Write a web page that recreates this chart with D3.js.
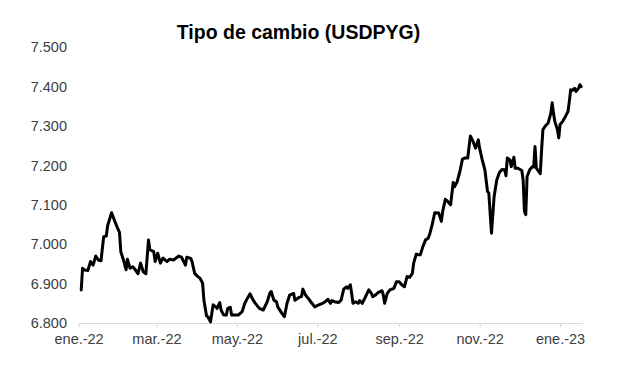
<!DOCTYPE html>
<html>
<head>
<meta charset="utf-8">
<script src="https://cdn.jsdelivr.net/npm/d3@7"></script>
<style>
  html, body { margin: 0; padding: 0; background: #fff; }
  svg { display: block; }
</style>
</head>
<body>
<svg id="chart" width="617" height="372"></svg>
<script>
const title = "Tipo de cambio (USDPYG)";

const dates = [
  "2022-01-03","2022-01-04","2022-01-05","2022-01-08","2022-01-10","2022-01-12","2022-01-14","2022-01-16","2022-01-18","2022-01-20",
  "2022-01-22","2022-01-23","2022-01-26","2022-01-28","2022-01-30","2022-02-01","2022-02-02","2022-02-04","2022-02-06","2022-02-07",
  "2022-02-09","2022-02-11","2022-02-13","2022-02-15","2022-02-17","2022-02-19","2022-02-21","2022-02-23","2022-02-24","2022-02-27",
  "2022-02-28","2022-03-02","2022-03-04","2022-03-06","2022-03-09","2022-03-11","2022-03-14","2022-03-18","2022-03-20","2022-03-23",
  "2022-03-24","2022-03-27","2022-03-28","2022-03-30","2022-04-01","2022-04-03","2022-04-05","2022-04-06","2022-04-08","2022-04-09",
  "2022-04-11","2022-04-13","2022-04-15","2022-04-16","2022-04-18","2022-04-19","2022-04-21","2022-04-23","2022-04-24","2022-04-26",
  "2022-04-27","2022-04-30","2022-05-02","2022-05-05","2022-05-07","2022-05-09","2022-05-11","2022-05-13","2022-05-15","2022-05-18",
  "2022-05-21","2022-05-24","2022-05-26","2022-05-27","2022-05-29","2022-05-31","2022-06-01","2022-06-04","2022-06-06","2022-06-08",
  "2022-06-10","2022-06-13","2022-06-14","2022-06-17","2022-06-19","2022-06-20","2022-06-22","2022-06-24","2022-06-26","2022-06-29",
  "2022-07-02","2022-07-05","2022-07-07","2022-07-09","2022-07-11","2022-07-12","2022-07-14","2022-07-17","2022-07-19","2022-07-21",
  "2022-07-23","2022-07-24","2022-07-26","2022-07-27","2022-07-28","2022-07-30","2022-08-01","2022-08-02","2022-08-04","2022-08-06",
  "2022-08-09","2022-08-11","2022-08-12","2022-08-14","2022-08-16","2022-08-19","2022-08-20","2022-08-21","2022-08-23","2022-08-25",
  "2022-08-28","2022-08-30","2022-09-01","2022-09-03","2022-09-05","2022-09-07","2022-09-09","2022-09-11","2022-09-12","2022-09-14",
  "2022-09-16","2022-09-17","2022-09-19","2022-09-21","2022-09-23","2022-09-24","2022-09-26","2022-09-28","2022-10-01","2022-10-03",
  "2022-10-04","2022-10-06","2022-10-08","2022-10-10","2022-10-12","2022-10-13","2022-10-15","2022-10-17","2022-10-19","2022-10-21",
  "2022-10-23","2022-10-25","2022-10-27","2022-10-29","2022-10-31","2022-11-01","2022-11-03","2022-11-05","2022-11-07","2022-11-08",
  "2022-11-10","2022-11-12","2022-11-14","2022-11-16","2022-11-18","2022-11-20","2022-11-21","2022-11-22","2022-11-24","2022-11-25",
  "2022-11-27","2022-11-28","2022-11-30","2022-12-03","2022-12-04","2022-12-05","2022-12-06","2022-12-07","2022-12-09","2022-12-11",
  "2022-12-12","2022-12-13","2022-12-14","2022-12-16","2022-12-17","2022-12-18","2022-12-19","2022-12-21","2022-12-23","2022-12-25",
  "2022-12-26","2022-12-27","2022-12-28","2022-12-30","2022-12-31","2023-01-01","2023-01-03","2023-01-05","2023-01-07","2023-01-08",
  "2023-01-09","2023-01-10","2023-01-12","2023-01-13","2023-01-15","2023-01-16","2023-01-17"
];

const values = [
  6884,6939,6935,6933,6956,6947,6970,6960,6958,7019,
  7021,7047,7080,7062,7045,7030,6981,6960,6935,6962,
  6939,6943,6935,6925,6952,6930,6925,7011,6986,6981,
  6956,6977,6952,6965,6956,6962,6960,6970,6967,6947,
  6967,6964,6956,6926,6919,6914,6901,6858,6818,6816,
  6803,6846,6841,6837,6852,6833,6820,6820,6837,6840,
  6820,6820,6820,6829,6850,6863,6874,6860,6850,6837,
  6833,6854,6876,6880,6858,6854,6841,6825,6816,6850,
  6871,6875,6858,6865,6867,6886,6871,6863,6854,6841,
  6846,6850,6854,6860,6850,6857,6854,6852,6858,6886,
  6892,6888,6897,6875,6850,6854,6850,6857,6850,6863,
  6884,6875,6867,6871,6877,6882,6871,6850,6875,6884,
  6888,6905,6905,6897,6892,6918,6916,6926,6952,6975,
  6973,6973,6994,7011,7015,7024,7049,7080,7079,7058,
  7083,7114,7108,7100,7157,7146,7159,7184,7216,7219,
  7219,7275,7261,7244,7265,7244,7214,7189,7134,7130,
  7028,7121,7163,7182,7190,7189,7174,7219,7214,7197,
  7221,7193,7193,7187,7163,7083,7075,7172,7189,7197,
  7196,7248,7193,7184,7179,7240,7291,7301,7308,7333,
  7359,7333,7312,7291,7270,7304,7312,7324,7337,7362,
  7392,7390,7396,7388,7396,7405,7400
];

const yTicks = [6800, 6900, 7000, 7100, 7200, 7300, 7400, 7500];
const xTicks = ["2022-01-01","2022-03-01","2022-05-01","2022-07-01","2022-09-01","2022-11-01","2023-01-01"];
const monthNames = ["ene.","feb.","mar.","abr.","may.","jun.","jul.","ago.","sep.","oct.","nov.","dic."];
const axisStart = "2022-01-01";
const axisEnd = "2023-01-18";

const parse = d3.utcParse("%Y-%m-%d");
const data = dates.map((d, i) => ({ date: parse(d), value: values[i] }));

const svg = d3.select("#chart");
const plotLeft = 78.6, plotRight = 582.5, plotTop = 47.3, plotBottom = 323;

const x = d3.scaleUtc().domain([parse(axisStart), parse(axisEnd)]).range([plotLeft, plotRight]);
const y = d3.scaleLinear().domain([6800, 7500]).range([plotBottom, plotTop]);

const locale = d3.formatLocale({ decimal: ",", thousands: ".", grouping: [3], currency: ["", ""] });
const fmt = locale.format(",.0f");

const fontFamily = "'Liberation Sans', Arial, sans-serif";

// Title
svg.append("text")
  .attr("x", 298.5).attr("y", 38.5)
  .attr("text-anchor", "middle")
  .attr("font-family", fontFamily)
  .attr("font-weight", "bold")
  .attr("font-size", "19.5px")
  .attr("fill", "#000")
  .text(title);

// Y axis (labels only)
const yAxis = d3.axisLeft(y).tickValues(yTicks).tickFormat(fmt).tickSize(0).tickPadding(0);
const yg = svg.append("g").attr("transform", "translate(67,0)").call(yAxis);
yg.select(".domain").remove();
yg.selectAll("text")
  .attr("font-family", fontFamily)
  .attr("font-size", "14.5px")
  .attr("fill", "#404040");

// X axis
const xAxis = d3.axisBottom(x)
  .tickValues(xTicks.map(parse))
  .tickFormat(d => monthNames[d.getUTCMonth()] + "-" + String(d.getUTCFullYear()).slice(2))
  .tickSizeInner(4).tickSizeOuter(0).tickPadding(7);
const xg = svg.append("g").attr("transform", `translate(0,${plotBottom})`).call(xAxis);
xg.select(".domain").attr("stroke", "#d9d9d9").attr("stroke-width", 1.2);
xg.selectAll(".tick line").attr("stroke", "#d9d9d9").attr("stroke-width", 1.2);
xg.selectAll("text")
  .attr("font-family", fontFamily)
  .attr("font-size", "14.5px")
  .attr("fill", "#404040");

// Line
const line = d3.line().x(d => x(d.date)).y(d => y(d.value));
svg.append("path")
  .datum(data)
  .attr("fill", "none")
  .attr("stroke", "#000")
  .attr("stroke-width", 3)
  .attr("stroke-linejoin", "round")
  .attr("stroke-linecap", "round")
  .attr("d", line);
</script>
</body>
</html>
